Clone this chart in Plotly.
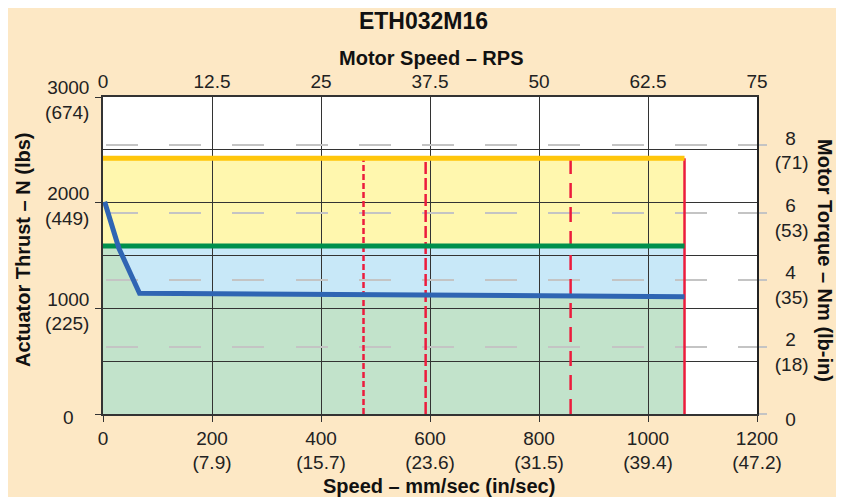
import plotly.graph_objects as go

# ---------------- data ----------------
speed_ticks = [0, 200, 400, 600, 800, 1000, 1200]
speed_in_labels = ["", "(7.9)", "(15.7)", "(23.6)", "(31.5)", "(39.4)", "(47.2)"]
rps_ticks = [0, 12.5, 25, 37.5, 50, 62.5, 75]
rps_labels = ["0", "12.5", "25", "37.5", "50", "62.5", "75"]
thrust_ticks = [0, 1000, 2000, 3000]
thrust_lbs_labels = ["", "(225)", "(449)", "(674)"]
thrust_minor = [500, 1500, 2500]
torque_ticks = [0, 2, 4, 6, 8]
torque_lbin_labels = ["", "(18)", "(35)", "(53)", "(71)"]

cont_speed = [3, 29, 67, 580, 1067]          # mm/s
cont_thrust = [2008, 1570, 1143, 1120, 1110]  # N  (continuous thrust curve)
peak_thrust = 2420       # N  (yellow line)
rated_thrust = 1590      # N  (green line)
max_speed = 1067         # mm/s (solid red line)
crit_speeds = [478, 592, 858]                 # mm/s (red dashed lines)
crit_dashes = ["6px,3px", "12px,4px", "15px,9px"]

speed_range = [0, 1200]
rps_range = [0, 75]
thrust_range = [0, 3000]
torque_range = [0, 9.44]

# ---------------- style ----------------
BG = "#FDE8C5"
FONT = "Liberation Sans, Arial, sans-serif"
GRID = "#333333"
RED = "#EC1C3D"
C_YEL_FILL = "#FFF7AE"
C_BLUE_FILL = "#C8E8F8"
C_GRN_FILL = "#C2E3CB"
C_YEL = "#FFC60B"
C_GRN = "#00904C"
C_BLUE = "#2F65B3"

# page offset of the figure inside the browser window (body margin)
OFF = 8
W, H = 844 - OFF, 497 - OFF
PL, PT, PW, PH = 103, 97, 654, 317   # plot area in window pixels

fig = go.Figure()

shapes = []
shapes.append(dict(type="rect", xref="x", yref="y", x0=0, x1=max_speed, y0=0, y1=rated_thrust,
                   fillcolor=C_BLUE_FILL, line_width=0, layer="below"))
path = "M 0,0 L 0,%g " % cont_thrust[0]
for s, t in zip(cont_speed, cont_thrust):
    path += "L %g,%g " % (s, t)
path += "L %g,0 Z" % cont_speed[-1]
shapes.append(dict(type="path", xref="x", yref="y", path=path,
                   fillcolor=C_GRN_FILL, line_width=0, layer="below"))
shapes.append(dict(type="rect", xref="x", yref="y", x0=0, x1=max_speed, y0=rated_thrust, y1=peak_thrust,
                   fillcolor=C_YEL_FILL, line_width=0, layer="below"))

for cs, d in zip(crit_speeds, crit_dashes):
    fig.add_trace(go.Scatter(x=[cs, cs], y=[0, peak_thrust], mode="lines",
                             line=dict(color=RED, width=2.5, dash=d), hoverinfo="skip", showlegend=False))
fig.add_trace(go.Scatter(x=[max_speed, max_speed], y=[0, peak_thrust], mode="lines",
                         line=dict(color=RED, width=2.5), hoverinfo="skip", showlegend=False))

fig.add_trace(go.Scatter(x=[0, max_speed], y=[peak_thrust, peak_thrust], mode="lines",
                         line=dict(color=C_YEL, width=5), hoverinfo="skip", showlegend=False))
fig.add_trace(go.Scatter(x=[0, max_speed], y=[rated_thrust, rated_thrust], mode="lines",
                         line=dict(color=C_GRN, width=5), hoverinfo="skip", showlegend=False))
fig.add_trace(go.Scatter(x=cont_speed, y=cont_thrust, mode="lines",
                         line=dict(color=C_BLUE, width=5), hoverinfo="skip", showlegend=False))

fig.add_trace(go.Scatter(x=rps_range, y=torque_range, xaxis="x2", yaxis="y2", mode="markers",
                         marker=dict(opacity=0), hoverinfo="skip", showlegend=False))

tickfont = dict(family=FONT, size=19, color="#222")

xt = [("%d" % v) + ("<br>" + l if l else "") for v, l in zip(speed_ticks, speed_in_labels)]
yt = []
for v, l in zip(thrust_ticks, thrust_lbs_labels):
    yt.append(("%d<br>%s" % (v, l)) if l else "%d\u00a0\u00a0\u00a0" % v)
y2t = []
for v, l in zip(torque_ticks, torque_lbin_labels):
    y2t.append(("\u00a0\u00a0%d<br>%s" % (v, l)) if l else "\u00a0\u00a0%d" % v)

fig.update_layout(
    width=W, height=H, autosize=False,
    margin=dict(l=PL - OFF, r=W - (PL - OFF) - PW, t=PT - OFF, b=H - (PT - OFF) - PH),
    paper_bgcolor=BG, plot_bgcolor="white",
    font=dict(family=FONT, color="#222"),
    shapes=shapes,
    xaxis=dict(range=speed_range, tickmode="array", tickvals=speed_ticks, ticktext=xt,
               showgrid=True, gridcolor=GRID, gridwidth=1.3, zeroline=False,
               showline=True, linecolor=GRID, linewidth=1.5,
               ticks="outside", ticklen=6, tickcolor=GRID, tickfont=tickfont),
    xaxis2=dict(range=rps_range, overlaying="x", side="top", tickmode="array",
                tickvals=rps_ticks, ticktext=rps_labels, showgrid=False, zeroline=False,
                showline=True, linecolor=GRID, linewidth=1.5, ticks="", tickfont=tickfont),
    yaxis=dict(range=thrust_range, tickmode="array", tickvals=thrust_ticks, ticktext=yt,
               showgrid=True, gridcolor=GRID, gridwidth=1.3, zeroline=False,
               showline=True, linecolor=GRID, linewidth=1.5,
               ticks="outside", ticklen=6, tickcolor=GRID, tickfont=tickfont, ticklabelstandoff=2,
               ticklabelshift=3,
               minor=dict(tickvals=thrust_minor, showgrid=True, gridcolor=GRID, gridwidth=1.3, ticks="")),
    yaxis2=dict(range=torque_range, overlaying="y", side="right", tickmode="array",
                tickvals=torque_ticks, ticktext=y2t,
                showgrid=True, gridcolor="#C4C4C4", gridwidth=1.6, griddash="0px,3px,32px,28.2px",
                zeroline=False, showline=True, linecolor="#222", linewidth=2,
                ticks="outside", ticklen=8, tickcolor="#C4C4C4", tickwidth=1.6, tickfont=tickfont,
                ticklabelstandoff=4, ticklabelshift=5),
    title=dict(text="<b>ETH032M16</b>", x=(423.5 - OFF) / W, y=1 - (21 - OFF) / H,
               xanchor="center", yanchor="middle",
               font=dict(family=FONT, size=23, color="#111")),
)

titlefont = dict(family=FONT, size=20, color="#111")
def px_x(v):
    return (v - PL) / PW
def px_y(v):
    return (PT + PH - v) / PH

fig.add_annotation(text="<b>Motor Speed – RPS</b>", xref="paper", yref="paper",
                   x=px_x(431), y=px_y(58), showarrow=False,
                   xanchor="center", yanchor="middle", font=titlefont)
fig.add_annotation(text="<b>Speed – mm/sec (in/sec)</b>", xref="paper", yref="paper",
                   x=px_x(439), y=px_y(486), showarrow=False,
                   xanchor="center", yanchor="middle", font=titlefont)
fig.add_annotation(text="<b>Actuator Thrust – N (lbs)</b>", xref="paper", yref="paper",
                   x=px_x(23), y=px_y(250), showarrow=False, textangle=-90,
                   xanchor="center", yanchor="middle", font=titlefont)
fig.add_annotation(text="<b>Motor Torque – Nm (lb-in)</b>", xref="paper", yref="paper",
                   x=px_x(825), y=px_y(260), showarrow=False, textangle=90,
                   xanchor="center", yanchor="middle", font=titlefont)

fig.write_html("out.html")
